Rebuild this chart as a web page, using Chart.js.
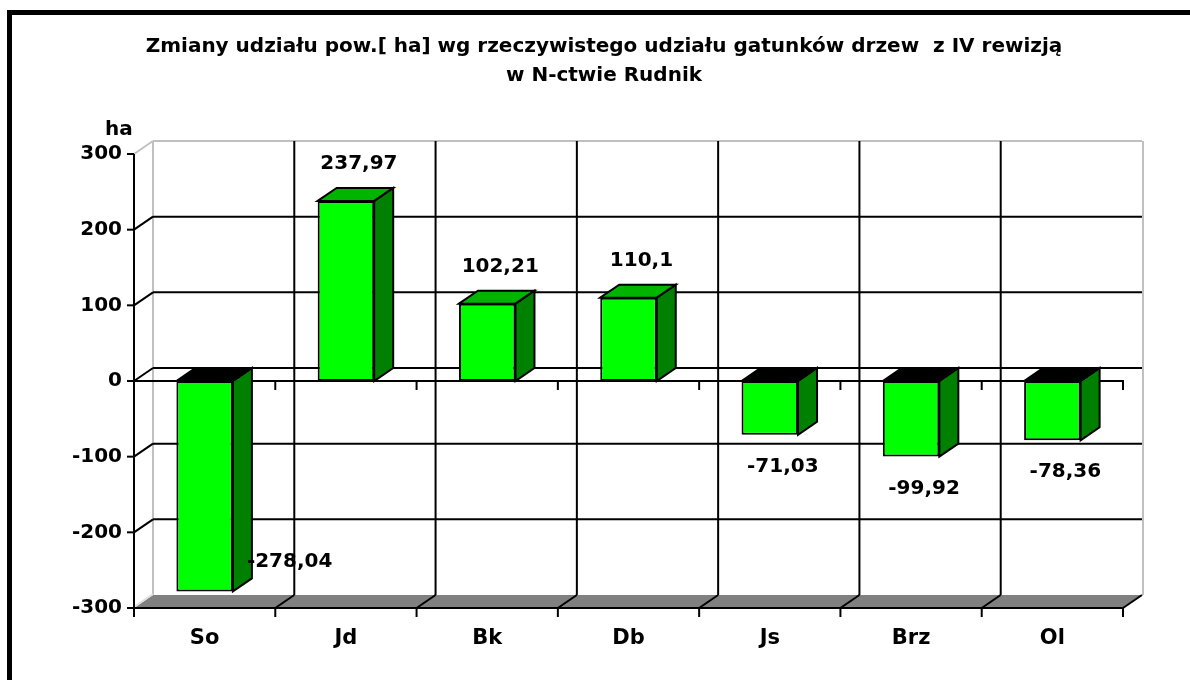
<!DOCTYPE html>
<html>
<head>
<meta charset="utf-8">
<script src="https://cdn.jsdelivr.net/npm/chart.js@4.4.0/dist/chart.umd.min.js"></script>
<style>
  body { margin: 0; background: #fff; }
  canvas { display: block; }
</style>
</head>
<body>
<canvas id="chart" width="1190" height="680"></canvas>
<script>
// data
const categories = ['So', 'Jd', 'Bk', 'Db', 'Js', 'Brz', 'Ol'];
const values = [-278.04, 237.97, 102.21, 110.1, -71.03, -99.92, -78.36];
const yTicks = [-300, -200, -100, 0, 100, 200, 300];
const titleLines = ['Zmiany udziału pow.[ ha] wg rzeczywistego udziału gatunków drzew  z IV rewizją', 'w N-ctwie Rudnik'];
const unitLabel = 'ha';

const FONT = 'DejaVu Sans';
const DX = 19, DY = -13; // depth of the fake 3d
const LIGHT = '#c0c0c0';

function line(ctx, x1, y1, x2, y2, color, w) {
    ctx.beginPath();
    ctx.moveTo(x1, y1);
    ctx.lineTo(x2, y2);
    ctx.strokeStyle = color || '#000';
    ctx.lineWidth = w || 2;
    ctx.stroke();
}

function poly(ctx, pts, fill) {
    ctx.beginPath();
    ctx.moveTo(pts[0][0], pts[0][1]);
    for (let i = 1; i < pts.length; i++) ctx.lineTo(pts[i][0], pts[i][1]);
    ctx.closePath();
    ctx.fillStyle = fill;
    ctx.fill();
}

const threeD = {
    id: 'threeD',
    beforeDraw(chart) {
        const ctx = chart.ctx;
        ctx.save();
        ctx.fillStyle = '#fff';
        ctx.fillRect(0, 0, chart.width, chart.height);
        // outer frame, runs off the right and bottom edge
        ctx.lineWidth = 5;
        ctx.strokeStyle = '#000';
        ctx.strokeRect(9.5, 12.5, chart.width + 20, chart.height + 20);
        // title (drawn here so it can sit off-centre like the original)
        ctx.font = 'bold 20px "' + FONT + '"';
        ctx.fillStyle = '#000';
        ctx.textAlign = 'center';
        ctx.textBaseline = 'middle';
        titleLines.forEach((t, i) => ctx.fillText(t, 604, 47 + i * 29));
        ctx.restore();
    },
    beforeDatasetsDraw(chart) {
        const {ctx, chartArea: a, scales: {x, y}} = chart;
        const n = categories.length;
        const bx = k => x.getPixelForValue(k - 0.5);
        ctx.save();
        ctx.lineCap = 'butt';

        // floor
        poly(ctx, [[a.left, a.bottom], [a.left + DX, a.bottom + DY], [a.right + DX, a.bottom + DY], [a.right, a.bottom]], '#808080');

        // wall edges
        line(ctx, a.left + DX, a.top + DY, a.right + DX, a.top + DY, LIGHT, 2);
        line(ctx, a.left, a.top, a.left + DX, a.top + DY, LIGHT, 2);
        line(ctx, a.left + DX, a.top + DY, a.left + DX, a.bottom + DY, LIGHT, 2);
        line(ctx, a.right + DX + 1, a.top + DY, a.right + DX + 1, a.bottom + DY, LIGHT, 2);
        line(ctx, a.left, a.bottom - 1, a.left + DX, a.bottom + DY - 1, '#e0e0e0', 2);

        // gridlines on back wall + left wall
        yTicks.forEach((v, i) => {
            if (i === 0 || i === yTicks.length - 1) return;
            const py = y.getPixelForValue(v);
            line(ctx, a.left + DX, py + DY, a.right + DX, py + DY);
            line(ctx, a.left, py, a.left + DX, py + DY);
        });
        for (let k = 1; k < n; k++) {
            line(ctx, bx(k) + DX, a.top + DY, bx(k) + DX, a.bottom + DY);
        }

        // category axis at zero
        const y0 = y.getPixelForValue(0);
        line(ctx, a.left, y0, a.right, y0);
        for (let k = 1; k <= n; k++) line(ctx, bx(k), y0 - 1, bx(k), y0 + 9);

        // floor front edge
        line(ctx, a.left, a.bottom, a.right + 1, a.bottom);
        for (let k = 0; k <= n; k++) {
            line(ctx, bx(k), a.bottom, bx(k), a.bottom + 9);
            if (k > 0) line(ctx, bx(k), a.bottom, bx(k) + DX, a.bottom + DY);
        }

        // value axis
        line(ctx, a.left, a.top, a.left, a.bottom + 9);
        yTicks.forEach(v => {
            const py = y.getPixelForValue(v);
            line(ctx, a.left - 7, py, a.left, py);
        });

        // side and top faces of the bars
        ctx.lineJoin = 'miter';
        chart.getDatasetMeta(0).data.forEach((bar, i) => {
            const p = bar.getProps(['x', 'y', 'base', 'width'], true);
            const L = p.x - p.width / 2, R = p.x + p.width / 2;
            const top = Math.min(p.y, p.base), bot = Math.max(p.y, p.base);
            const side = [[R, top], [R + DX, top + DY], [R + DX, bot + DY], [R, bot]];
            const lid = [[L, top], [L + DX, top + DY], [R + DX, top + DY], [R, top]];
            poly(ctx, side, '#008000');
            ctx.lineWidth = 2; ctx.strokeStyle = '#000'; ctx.stroke();
            poly(ctx, lid, values[i] < 0 ? '#000' : '#00b400');
            ctx.stroke();
        });
        ctx.restore();
    },
    afterDatasetsDraw(chart) {
        const {ctx, chartArea: a} = chart;
        ctx.save();
        ctx.font = 'bold 20px "' + FONT + '"';
        ctx.fillStyle = '#000';
        ctx.textBaseline = 'middle';
        chart.getDatasetMeta(0).data.forEach((bar, i) => {
            const v = values[i];
            const txt = String(v).replace('.', ',');
            let lx = bar.x + 13, ly, align = 'center';
            if (v >= 0) {
                ly = bar.y - 37;
            } else {
                ly = bar.y + 32;
                if (ly > a.bottom - 20) { // no room under the floor, excel shoves it beside the bar
                    ly = a.bottom - 46;
                    lx = bar.x + bar.width / 2 + 14;
                    align = 'left';
                }
            }
            ctx.textAlign = align;
            ctx.fillText(txt, lx, ly);
        });
        ctx.textAlign = 'left';
        ctx.fillText(unitLabel, 105, a.top - 24);
        ctx.restore();
    }
};

const ctx = document.getElementById('chart').getContext('2d');
new Chart(ctx, {
    type: 'bar',
    data: {
        labels: categories,
        datasets: [{
            data: values,
            backgroundColor: '#00ff00',
            borderColor: '#000',
            borderWidth: 2,
            borderSkipped: false,
            barPercentage: 0.4,
            categoryPercentage: 1
        }]
    },
    options: {
        responsive: false,
        animation: false,
        devicePixelRatio: 1,
        layout: { padding: { left: 0, right: 67, top: 154, bottom: 22 } },
        plugins: {
            legend: { display: false },
            tooltip: { enabled: false },
            title: { display: false }
        },
        scales: {
            x: {
                grid: { display: false, drawTicks: false },
                border: { display: false },
                ticks: { color: '#000', font: { family: FONT, size: 21, weight: 'bold' }, padding: 18, maxRotation: 0 },
                afterFit(s) { s.height = 50; }
            },
            y: {
                min: -300,
                max: 300,
                grid: { display: false, drawTicks: false },
                border: { display: false },
                ticks: { color: '#000', font: { family: FONT, size: 20, weight: 'bold' }, padding: 12 },
                afterBuildTicks(s) { s.ticks = yTicks.map(v => ({ value: v })); },
                afterFit(s) { s.width = 134; }
            }
        }
    },
    plugins: [threeD]
});
</script>
</body>
</html>
